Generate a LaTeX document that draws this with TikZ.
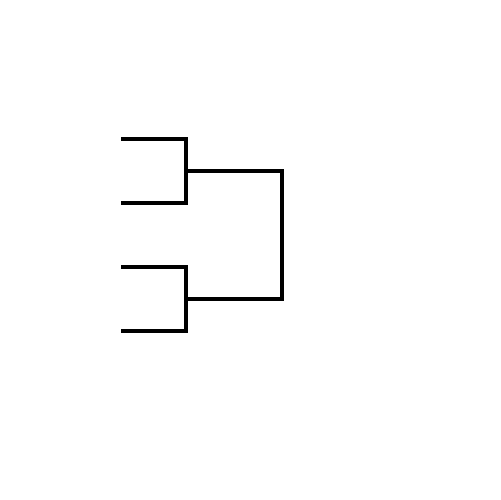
\documentclass[tikz,border=0pt]{standalone}
\usetikzlibrary{positioning}

\begin{document}
\begin{tikzpicture}
	[scale=.02,line width=1.9pt,line cap=butt,line join=miter]
	\useasboundingbox (0,0) rectangle (500,-500);
	% first round
	\coordinate (p1) at (121,-139);
	\coordinate (p2) at (121,-203);
	\coordinate (p3) at (121,-267);
	\coordinate (p4) at (121,-331);
	\coordinate (m1) at (186,-171);
	\coordinate (m2) at (186,-299);
	\coordinate (f) at (282,-235);
	
	\foreach \a/\b/\m in {p1/p2/m1,p3/p4/m2}
	\draw (\a) -| (\m |- \b) -- (\b);
	% final
	\draw (m1) -| (m2 -| f) -- (m2);
	\end{tikzpicture}
\end{document}
